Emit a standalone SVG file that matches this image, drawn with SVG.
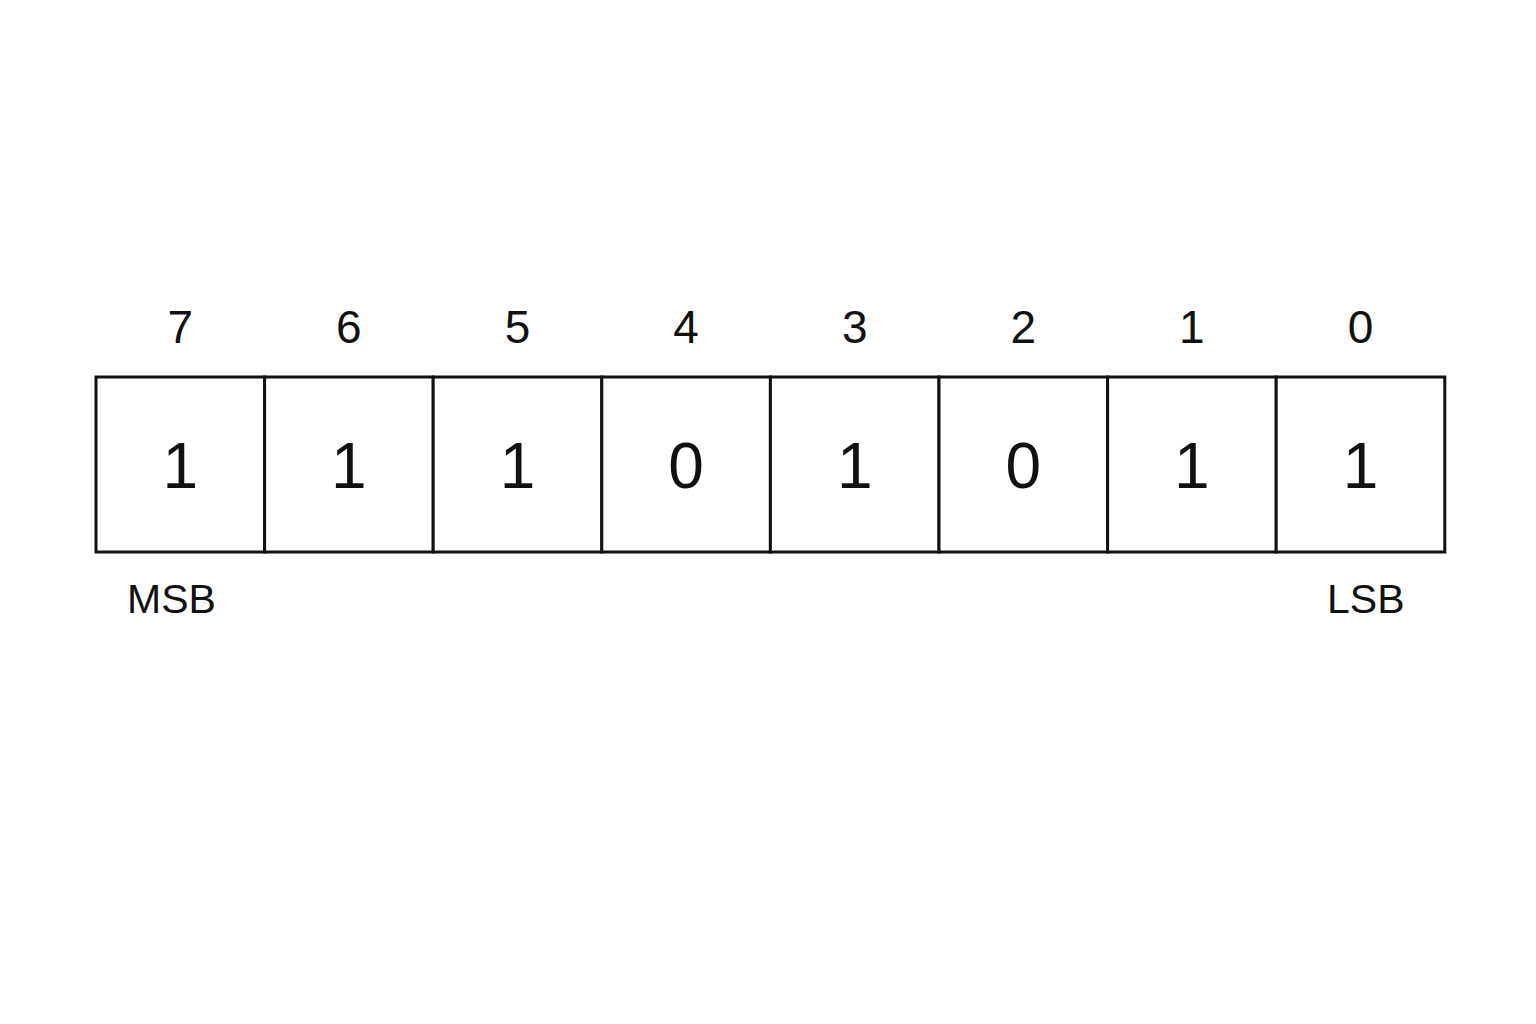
<svg xmlns="http://www.w3.org/2000/svg" width="1536" height="1024" viewBox="0 0 1536 1024">
<style>
.cell{fill:#fff;stroke:#111;stroke-width:3}
.idx{font-family:"Liberation Sans",Arial,sans-serif;font-size:46px;fill:#111;text-anchor:middle}
.bit{font-family:"Liberation Sans",Arial,sans-serif;font-size:64px;fill:#111;text-anchor:middle}
.lbl{font-family:"Liberation Sans",Arial,sans-serif;font-size:41px;fill:#111}
</style>
<rect width="1536" height="1024" fill="#fff"/>
<g id="bit7"><rect class="cell" x="96" y="377" width="168.6" height="175"/><text class="idx" x="180.3" y="343">7</text><text class="bit" x="180.3" y="488">1</text></g>
<g id="bit6"><rect class="cell" x="264.6" y="377" width="168.6" height="175"/><text class="idx" x="348.9" y="343">6</text><text class="bit" x="348.9" y="488">1</text></g>
<g id="bit5"><rect class="cell" x="433.2" y="377" width="168.6" height="175"/><text class="idx" x="517.5" y="343">5</text><text class="bit" x="517.5" y="488">1</text></g>
<g id="bit4"><rect class="cell" x="601.8" y="377" width="168.6" height="175"/><text class="idx" x="686.1" y="343">4</text><text class="bit" x="686.1" y="488">0</text></g>
<g id="bit3"><rect class="cell" x="770.4" y="377" width="168.6" height="175"/><text class="idx" x="854.7" y="343">3</text><text class="bit" x="854.7" y="488">1</text></g>
<g id="bit2"><rect class="cell" x="939" y="377" width="168.6" height="175"/><text class="idx" x="1023.3" y="343">2</text><text class="bit" x="1023.3" y="488">0</text></g>
<g id="bit1"><rect class="cell" x="1107.6" y="377" width="168.6" height="175"/><text class="idx" x="1191.9" y="343">1</text><text class="bit" x="1191.9" y="488">1</text></g>
<g id="bit0"><rect class="cell" x="1276.2" y="377" width="168.6" height="175"/><text class="idx" x="1360.5" y="343">0</text><text class="bit" x="1360.5" y="488">1</text></g>
<g id="labels"><text class="lbl" x="127" y="613">MSB</text><text class="lbl" x="1327" y="613">LSB</text></g>
<g id="connectors"></g>
</svg>
